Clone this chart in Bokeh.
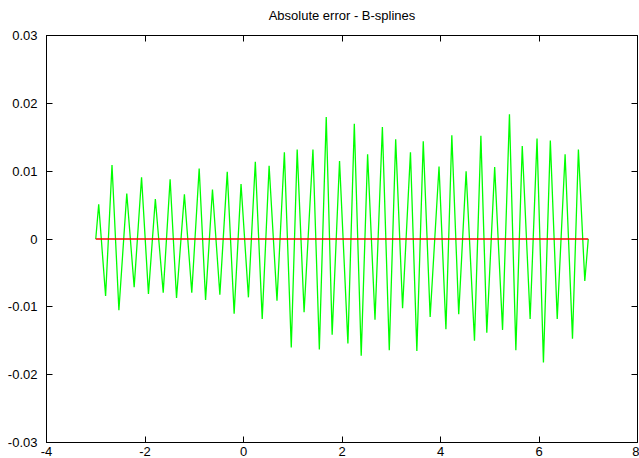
from bokeh.plotting import figure
from bokeh.models import LinearAxis, Range1d, FixedTicker, PrintfTickFormatter, CustomLabelingPolicy
from bokeh.embed import file_html
from bokeh.resources import INLINE

# Absolute error curve (extrema)
err_x = [-3.00, -2.94, -2.80, -2.67, -2.53, -2.37, -2.22, -2.07, -1.93, -1.79,
         -1.63, -1.49, -1.36, -1.20, -1.05, -0.90, -0.77, -0.63, -0.48, -0.33,
         -0.19, -0.05, 0.10, 0.24, 0.38, 0.52, 0.68, 0.83, 0.97, 1.09,
         1.23, 1.41, 1.54, 1.68, 1.80, 1.95, 2.12, 2.25, 2.39, 2.52,
         2.67, 2.82, 2.96, 3.09, 3.23, 3.39, 3.52, 3.65, 3.79, 3.97,
         4.11, 4.23, 4.37, 4.52, 4.69, 4.82, 4.94, 5.10, 5.26, 5.40,
         5.53, 5.66, 5.82, 5.96, 6.09, 6.23, 6.37, 6.53, 6.68, 6.80,
         6.93, 7.00]
err_y = [0.0, 0.0051, -0.0084, 0.0109, -0.0105, 0.0067, -0.0071, 0.0091, -0.0081, 0.0059,
         -0.0079, 0.0088, -0.0087, 0.0066, -0.0079, 0.0104, -0.0090, 0.0073, -0.0082, 0.0099,
         -0.0110, 0.0081, -0.0086, 0.0114, -0.0118, 0.0108, -0.0091, 0.0128, -0.0160, 0.0132,
         -0.0108, 0.0132, -0.0163, 0.0180, -0.0141, 0.0115, -0.0154, 0.0170, -0.0172, 0.0125,
         -0.0119, 0.0165, -0.0164, 0.0147, -0.0102, 0.0128, -0.0165, 0.0144, -0.0115, 0.0107,
         -0.0133, 0.0153, -0.0111, 0.0100, -0.0150, 0.0152, -0.0138, 0.0106, -0.0134, 0.0184,
         -0.0164, 0.0137, -0.0118, 0.0148, -0.0182, 0.0145, -0.0118, 0.0125, -0.0147, 0.0132,
         -0.0062, 0.0]

# Zero reference line
zero_x = [-3.0, 7.0]
zero_y = [0.0, 0.0]

x_ticks = [-4, -2, 0, 2, 4, 6, 8]
y_ticks = [-0.03, -0.02, -0.01, 0.0, 0.01, 0.02, 0.03]
x_min, x_max = -4, 8
y_min, y_max = -0.03, 0.03

FONT = "Liberation Sans"

p = figure(width=639, height=458,
           x_range=Range1d(x_min, x_max), y_range=Range1d(y_min, y_max),
           output_backend="svg", toolbar_location=None,
           min_border_left=46, min_border_right=2, min_border_top=34,
           min_border_bottom=0)

p.title.text = "Absolute error - B-splines"
p.title.align = "center"
p.title.text_font = FONT
p.title.text_font_size = "13px"
p.title.text_font_style = "normal"
p.title.text_color = "#000000"
p.title.standoff = 10

p.xgrid.visible = False
p.ygrid.visible = False
p.outline_line_color = "black"
p.outline_line_width = 1
p.background_fill_color = "white"
p.border_fill_color = "white"


def style_axis(ax, show_labels=True):
    ax.major_tick_in = 6
    ax.major_tick_out = 0
    ax.minor_tick_line_color = None
    ax.axis_line_color = "black"
    ax.major_tick_line_color = "black"
    ax.major_label_text_font = FONT
    ax.major_label_text_color = "#000000"
    ax.major_label_text_font_size = "13px"
    if not show_labels:
        ax.major_label_policy = CustomLabelingPolicy(code="return []")
        ax.major_label_standoff = 0
        ax.major_label_text_font_size = "1px"


p.xaxis[0].ticker = FixedTicker(ticks=x_ticks)
p.xaxis[0].formatter = PrintfTickFormatter(format="%g")
p.yaxis[0].ticker = FixedTicker(ticks=y_ticks)
p.yaxis[0].formatter = PrintfTickFormatter(format="%g")
style_axis(p.xaxis[0])
style_axis(p.yaxis[0])
p.xaxis[0].major_label_standoff = 4
p.yaxis[0].major_label_standoff = 9

# mirrored tick marks on the right and top edges of the frame
right_ax = LinearAxis(ticker=FixedTicker(ticks=y_ticks), fixed_location=x_max)
style_axis(right_ax, show_labels=False)
p.add_layout(right_ax, "right")

top_ax = LinearAxis(ticker=FixedTicker(ticks=x_ticks))
style_axis(top_ax, show_labels=False)
top_ax.major_label_standoff = 4
p.add_layout(top_ax, "above")

p.line(err_x, err_y, line_color="#00ff00", line_width=1.3)
p.line(zero_x, zero_y, line_color="#ff0000", line_width=1.3)

open("out.html", "w").write(file_html(p, INLINE))
